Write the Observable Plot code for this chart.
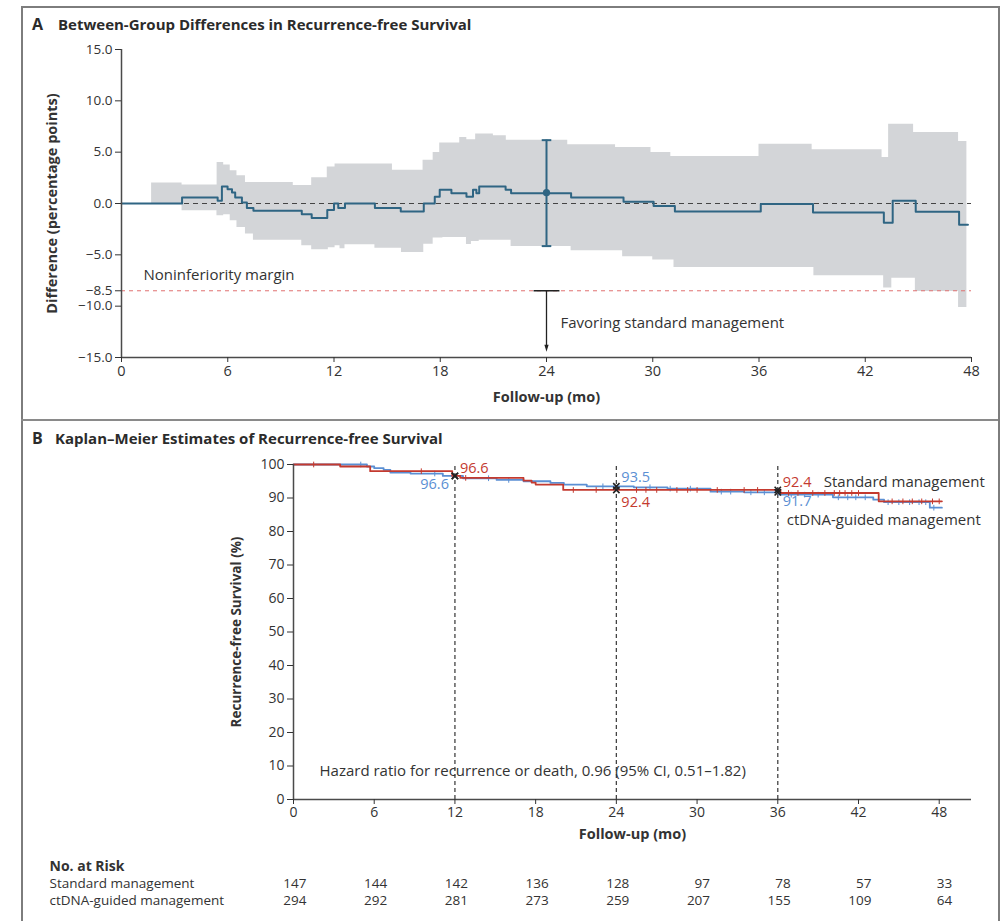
<!DOCTYPE html>
<html><head><meta charset="utf-8">
<script src="https://cdn.jsdelivr.net/npm/d3@7"></script>
<script src="https://cdn.jsdelivr.net/npm/@observablehq/plot@0.6"></script>
<style>
body{margin:0;background:#fff;font-family:'Open Sans',sans-serif;color:#2b2b2b}
#wrap{position:relative;width:1005px;height:921px;overflow:hidden;background:#fff}
.abs{position:absolute}
.ttl{font-weight:bold;font-size:15px;white-space:nowrap;line-height:20px}
</style></head>
<body><div id="wrap">
<div class="abs" style="left:21px;top:6px;width:975px;height:930px;border:2px solid #7d7d7d;"></div>
<div class="abs" style="left:21px;top:419px;width:977px;height:2px;background:#8a8a8a;"></div>
<div class="abs ttl" style="left:32px;top:14px;font-size:16px">A</div>
<div class="abs ttl" style="left:58px;top:14px">Between-Group Differences in Recurrence-free Survival</div>
<div class="abs ttl" style="left:32px;top:428px;font-size:16px">B</div>
<div class="abs ttl" style="left:55px;top:428px">Kaplan–Meier Estimates of Recurrence-free Survival</div>
<div id="a" class="abs" style="left:0;top:0"></div>
<div id="b" class="abs" style="left:0;top:420px"></div>
</div>
<script>
// ---------- Panel A data ----------
const diffT = [0, 3.42, 5.43, 5.67, 5.99, 6.24, 6.42, 6.8, 7.08, 7.45, 10.18, 10.74, 11.62, 12.0, 12.24, 12.62, 14.31, 15.77, 17.07, 17.69, 17.97, 18.63, 19.48, 19.85, 20.04, 20.2, 21.69, 22.0, 25.39, 28.35, 30.05, 31.25, 36.1, 39.05, 43.05, 43.55, 44.85, 47.3, 47.8];
const diffV = [0, 0.58, 0.26, 1.66, 1.4, 1.07, 0.58, 0.1, -0.45, -0.71, -1.04, -1.42, -0.64, 0, -0.45, 0, -0.45, -0.78, 0, 0.65, 1.33, 1.0, 0.65, 1.33, 1.0, 1.66, 1.33, 1.0, 0.58, 0.17, -0.24, -0.78, -0.06, -0.88, -1.88, 0.26, -0.8, -2.07, -2.07];
const upT = [1.7, 3.42, 5.4, 5.77, 6.14, 6.52, 7.0, 9.7, 10.74, 11.62, 12.06, 15.3, 17.03, 17.6, 17.97, 19.1, 19.5, 20.0, 21.0, 21.73, 25.2, 27.9, 29.9, 31.02, 36.0, 39.0, 42.95, 43.32, 44.73, 47.27, 47.74];
const upV = [2.0, 1.8, 4.0, 3.74, 3.2, 2.7, 2.04, 1.75, 2.5, 3.55, 3.84, 3.25, 4.22, 4.97, 5.9, 6.43, 6.2, 6.76, 6.6, 6.17, 5.72, 5.45, 4.97, 4.58, 5.78, 5.23, 4.48, 7.73, 6.91, 6.04, 6.04];
const loT = [1.7, 3.42, 5.39, 5.77, 6.14, 6.52, 7.0, 7.45, 10.18, 10.74, 11.68, 12.06, 12.34, 12.62, 14.31, 15.81, 17.07, 17.6, 18.15, 19.48, 19.76, 20.2, 22.0, 25.39, 28.3, 30.0, 31.2, 39.1, 43.04, 43.5, 44.83, 47.27, 47.74];
const loV = [0, -0.71, -1.2, -1.1, -1.69, -2.34, -2.98, -3.57, -4.12, -4.51, -4.3, -4.12, -4.4, -4.02, -4.35, -4.77, -3.96, -3.37, -3.3, -4.0, -3.7, -3.57, -4.2, -4.6, -5.19, -5.51, -6.23, -7.04, -8.24, -7.27, -8.57, -10.13, -10.13];
const ciTime = [24], ciEst = [1.05], ciLow = [-4.15], ciHigh = [6.17];
const nonInfMargin = -8.5;
const yTicksA = [15, 10, 5, 0, -5, -8.5, -10, -15];
const xTicks = [0, 6, 12, 18, 24, 30, 36, 42, 48];

// ---------- Panel B data ----------
const stdT = [0, 3.47, 5.7, 11.8, 12.4, 17.1, 17.7, 18.0, 20.05, 36.2, 43.5, 48.2];
const stdV = [100, 99.4, 98.0, 96.6, 96.0, 95.2, 94.6, 94.0, 92.4, 91.5, 89.0, 89.0];
const ctT = [0, 5.46, 6.0, 6.7, 7.2, 8.7, 11.1, 12.6, 15.1, 17.1, 19.1, 20.1, 21.8, 25.3, 27.8, 31.0, 33.5, 36.1, 40.1, 43.1, 43.9, 47.3, 48.2];
const ctV = [100, 99.4, 98.9, 98.4, 97.6, 97.3, 96.6, 95.9, 95.4, 95.0, 94.5, 94.0, 93.5, 93.2, 92.8, 91.9, 91.7, 91.0, 90.2, 89.5, 88.75, 87.1, 87.1];
const stdCens = [1.5, 9.5, 12.8, 20.8, 22.5, 25.5, 26.2, 27.0, 28.5, 29.3, 30.0, 31.5, 33.5, 34.5, 36.8, 37.5, 38.6, 39.5, 40.2, 40.6, 41.0, 41.5, 42.0, 44.5, 45.3, 46.0, 46.7, 47.5, 48.0];
const ctCens = [5.0, 10.5, 14.5, 16.0, 23.0, 26.5, 28.0, 29.5, 31.8, 32.5, 34.0, 35.0, 37.0, 38.0, 39.0, 40.5, 41.2, 41.8, 42.5, 44.2, 45.0, 45.8, 46.5, 47.0, 47.6];
const landmarkT = [12, 24, 36];
const landStd = [96.6, 92.4, 92.4];
const landCt = [96.6, 93.5, 91.7];
const riskStd = [147, 144, 142, 136, 128, 97, 78, 57, 33];
const riskCt = [294, 292, 281, 273, 259, 207, 155, 109, 64];
const hazardText = "Hazard ratio for recurrence or death, 0.96 (95% CI, 0.51\u20131.82)";

// ---------- helpers ----------
function stepAt(T, V, t) { let v = V[0]; for (let i = 0; i < T.length; i++) if (T[i] <= t) v = V[i]; return v; }
const fmtA = d => (d < 0 ? "\u2212" : "") + Math.abs(d).toFixed(1);
const hbar = {draw(ctx, size) { const w = Math.sqrt(size); ctx.moveTo(-w, 0); ctx.lineTo(w, 0); }};
const vbar = {draw(ctx, size) { const h = Math.sqrt(size); ctx.moveTo(0, -h); ctx.lineTo(0, h); }};
const downTri = {draw(ctx, size) { const s = Math.sqrt(size) / 2; ctx.moveTo(0, s); ctx.lineTo(-s * 0.6, -s); ctx.lineTo(s * 0.6, -s); ctx.closePath(); }};

const diff = diffT.map((t, i) => ({t, v: diffV[i]}));
const bandTimes = Array.from(new Set([...upT, ...loT])).sort((a, b) => a - b);
const band = bandTimes.map(t => ({t, hi: stepAt(upT, upV, t), lo: stepAt(loT, loV, t)}));
const ci = ciTime.map((t, i) => ({t, est: ciEst[i], lo: ciLow[i], hi: ciHigh[i]}));

const teal = "#2f6583", grey = "#d3d5d8", axisCol = "#4a4a4a";
const red = "#c43a2f", blue = "#5b8fd3";
const baseStyle = {fontFamily: "'Open Sans', sans-serif", fontSize: "14px", color: "#333", background: "transparent", overflow: "visible"};

const plotA = Plot.plot({
  width: 1005, height: 420, marginLeft: 121, marginRight: 34, marginTop: 49, marginBottom: 63,
  x: {domain: [0, 48]}, y: {domain: [-15, 15]},
  style: baseStyle,
  marks: [
    Plot.areaY(band, {x: "t", y1: "lo", y2: "hi", curve: "step-after", fill: grey}),
    Plot.ruleY([0], {stroke: "#444", strokeDasharray: "5,4", strokeWidth: 1}),
    Plot.ruleY([nonInfMargin], {stroke: "#e07070", strokeDasharray: "4,4", strokeWidth: 1}),
    Plot.line(diff, {x: "t", y: "v", curve: "step-after", stroke: teal, strokeWidth: 2}),
    Plot.ruleX(ci, {x: "t", y1: "lo", y2: "hi", stroke: teal, strokeWidth: 2}),
    Plot.dot(ci, {x: "t", y: "lo", symbol: hbar, r: 2.7, stroke: teal, strokeWidth: 2}),
    Plot.dot(ci, {x: "t", y: "hi", symbol: hbar, r: 2.7, stroke: teal, strokeWidth: 2}),
    Plot.dot(ci, {x: "t", y: "est", r: 3.6, fill: teal}),
    Plot.ruleX(ci, {x: "t", y1: () => nonInfMargin, y2: () => -14.1, stroke: "#222", strokeWidth: 1.3}),
    Plot.dot(ci, {x: "t", y: () => -14.1, symbol: downTri, r: 4, fill: "#222"}),
    Plot.dot(ci, {x: "t", y: () => nonInfMargin, symbol: hbar, r: 7.3, stroke: "#222", strokeWidth: 1.5}),
    Plot.ruleX([0], {stroke: axisCol, strokeWidth: 1.5}),
    Plot.ruleY([-15], {stroke: axisCol, strokeWidth: 1.5}),
    Plot.axisX({ticks: xTicks, tickSize: 5, tickPadding: 3, label: null, tickFormat: d => String(d), fontSize: 14.5}),
    Plot.axisY({ticks: yTicksA, tickSize: 6, tickPadding: 3, label: null, tickFormat: fmtA, fontSize: 13.5}),
    Plot.text(["Difference (percentage points)"], {text: d => d, frameAnchor: "left", dx: -69, rotate: -90, textAnchor: "middle", lineAnchor: "middle", fontWeight: "bold", fontSize: 14.5}),
    Plot.text(["Follow-up (mo)"], {text: d => d, frameAnchor: "bottom", dy: 40, lineAnchor: "middle", fontWeight: "bold", fontSize: 14.5}),
    Plot.text([nonInfMargin], {y: d => d, text: () => "Noninferiority margin", frameAnchor: "left", dx: 22, dy: -16, textAnchor: "start", lineAnchor: "middle", fontSize: 15}),
    Plot.text(ci, {x: "t", y: () => nonInfMargin, text: () => "Favoring standard management", dx: 14, dy: 32, textAnchor: "start", lineAnchor: "middle", fontSize: 15})
  ]
});
document.getElementById("a").appendChild(plotA);

// ---------- Panel B ----------
const std = stdT.map((t, i) => ({t, v: stdV[i]}));
const ct = ctT.map((t, i) => ({t, v: ctV[i]}));
const stdC = stdCens.map(t => ({t, v: stepAt(stdT, stdV, t)}));
const ctC = ctCens.map(t => ({t, v: stepAt(ctT, ctV, t)}));
const crosses = landmarkT.flatMap((t, i) => [{t, v: landStd[i]}, {t, v: landCt[i]}]);
const labelsB = [
  {t: landmarkT[0], v: landStd[0], c: red, dx: 5, dy: -8, a: "start"},
  {t: landmarkT[0], v: landCt[0], c: blue, dx: -6, dy: 8, a: "end"},
  {t: landmarkT[1], v: landCt[1], c: blue, dx: 5, dy: -9, a: "start"},
  {t: landmarkT[1], v: landStd[1], c: red, dx: 5, dy: 12, a: "start"},
  {t: landmarkT[2], v: landStd[2], c: red, dx: 5, dy: -8, a: "start"},
  {t: landmarkT[2], v: landCt[2], c: blue, dx: 5, dy: 9, a: "start"}
];
const labelMarks = labelsB.map(d => Plot.text([d], {x: "t", y: "v", text: e => e.v.toFixed(1), fill: d.c, dx: d.dx, dy: d.dy, textAnchor: d.a, lineAnchor: "middle", fontSize: 14.5}));
const rowStd = riskStd.map((n, i) => ({t: xTicks[i], n}));
const rowCt = riskCt.map((n, i) => ({t: xTicks[i], n}));

const plotB = Plot.plot({
  width: 1005, height: 501, marginLeft: 293, marginRight: 34, marginTop: 44, marginBottom: 122,
  x: {domain: [0, 50.4]}, y: {domain: [0, 100]},
  style: baseStyle,
  marks: [
    Plot.ruleX(landmarkT, {y1: 0, y2: 100, stroke: "#444", strokeDasharray: "4,3", strokeWidth: 1.3}),
    Plot.line(ct, {x: "t", y: "v", curve: "step-after", stroke: blue, strokeWidth: 1.8}),
    Plot.dot(ctC, {x: "t", y: "v", symbol: vbar, r: 1.6, stroke: blue, strokeWidth: 1}),
    Plot.line(std, {x: "t", y: "v", curve: "step-after", stroke: red, strokeWidth: 1.8}),
    Plot.dot(stdC, {x: "t", y: "v", symbol: vbar, r: 1.6, stroke: red, strokeWidth: 1}),
    Plot.dot(crosses, {x: "t", y: "v", symbol: "times", r: 3, stroke: "#222", strokeWidth: 1.6}),
    ...labelMarks,
    Plot.text([0], {x: () => landmarkT[2], y: () => landStd[2], text: () => "Standard management", dx: 46, dy: -8, textAnchor: "start", lineAnchor: "middle", fontSize: 15}),
    Plot.text([0], {x: () => landmarkT[2], y: () => landCt[2], text: () => "ctDNA-guided management", dx: 9, dy: 28, textAnchor: "start", lineAnchor: "middle", fontSize: 15}),
    Plot.text([hazardText], {text: d => d, frameAnchor: "bottom-left", dx: 26, dy: -28, textAnchor: "start", lineAnchor: "middle", fontSize: 15}),
    Plot.ruleX([0], {stroke: axisCol, strokeWidth: 1.5}),
    Plot.ruleY([0], {stroke: axisCol, strokeWidth: 1.5}),
    Plot.axisX({ticks: xTicks, tickSize: 5, tickPadding: 3, label: null, tickFormat: d => String(d), fontSize: 14}),
    Plot.axisY({ticks: d3.range(0, 101, 10), tickSize: 6, tickPadding: 3, label: null, fontSize: 14}),
    Plot.text(["Recurrence-free Survival (%)"], {text: d => d, frameAnchor: "left", dx: -57, rotate: -90, textAnchor: "middle", lineAnchor: "middle", fontWeight: "bold", fontSize: 13.5}),
    Plot.text(["Follow-up (mo)"], {text: d => d, frameAnchor: "bottom", dy: 35, lineAnchor: "middle", fontWeight: "bold", fontSize: 14.5}),
    Plot.text(["No. at Risk"], {text: d => d, frameAnchor: "bottom-left", dx: -244, dy: 67, textAnchor: "start", lineAnchor: "middle", fontWeight: "bold", fontSize: 14}),
    Plot.text(["Standard management"], {text: d => d, frameAnchor: "bottom-left", dx: -244, dy: 84, textAnchor: "start", lineAnchor: "middle", fontSize: 13.5}),
    Plot.text(["ctDNA-guided management"], {text: d => d, frameAnchor: "bottom-left", dx: -244, dy: 101, textAnchor: "start", lineAnchor: "middle", fontSize: 13.5}),
    Plot.text(rowStd, {x: "t", text: "n", frameAnchor: "bottom", dy: 84, dx: 13, textAnchor: "end", lineAnchor: "middle", fontSize: 13.5}),
    Plot.text(rowCt, {x: "t", text: "n", frameAnchor: "bottom", dy: 101, dx: 13, textAnchor: "end", lineAnchor: "middle", fontSize: 13.5})
  ]
});
document.getElementById("b").appendChild(plotB);
</script>
</body></html>
